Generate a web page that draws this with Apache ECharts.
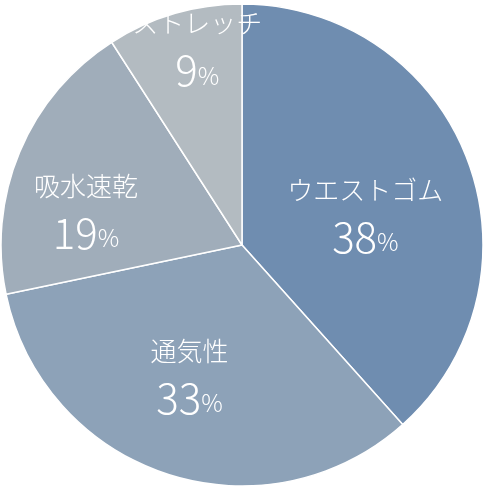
<!DOCTYPE html>
<html><head><meta charset="utf-8">
<script src="https://cdn.jsdelivr.net/npm/echarts@6/dist/echarts.min.js"></script>
<style>html,body{margin:0;background:#fff}#c{width:485px;height:489px}</style>
</head><body><div id="c"></div>
<script>
const names = ["ウエストゴム", "通気性", "吸水速乾", "ストレッチ"];
const values = [38, 33, 19, 9];
const colors = ["#6f8db0", "#8da2b8", "#a0adba", "#b3bbc1"];

const chart = echarts.init(document.getElementById("c"));
const shifts = [[8, 10], [-14, 10], [-42, 10], [-10, -82]];
chart.setOption({
    animation: false,
    series: [{
        type: "pie",
        center: [242, 245],
        radius: [0, 241],
        startAngle: 90,
        clockwise: true,
        itemStyle: { borderColor: "#fff", borderWidth: 1.5 },
        label: {
            position: "inside",
            formatter: (p) => "{n|" + p.name + "}\n{v|" + p.value + "}{u|%}",
            rich: {
                n: { fontFamily: "Noto Sans CJK JP", fontWeight: 300, fontSize: 26, color: "#fff", lineHeight: 52 },
                v: { fontFamily: "Noto Sans CJK JP", fontWeight: 300, fontSize: 42, color: "#fff" },
                u: { fontFamily: "Noto Sans CJK JP", fontWeight: 300, fontSize: 24, color: "#fff", verticalAlign: "bottom", padding: [0, 0, 4, 0] }
            }
        },
        labelLayout: (p) => ({ dx: shifts[p.dataIndex][0], dy: shifts[p.dataIndex][1] }),
        data: names.map((n, i) => ({ name: n, value: values[i], itemStyle: { color: colors[i] } }))
    }]
});
</script></body></html>
